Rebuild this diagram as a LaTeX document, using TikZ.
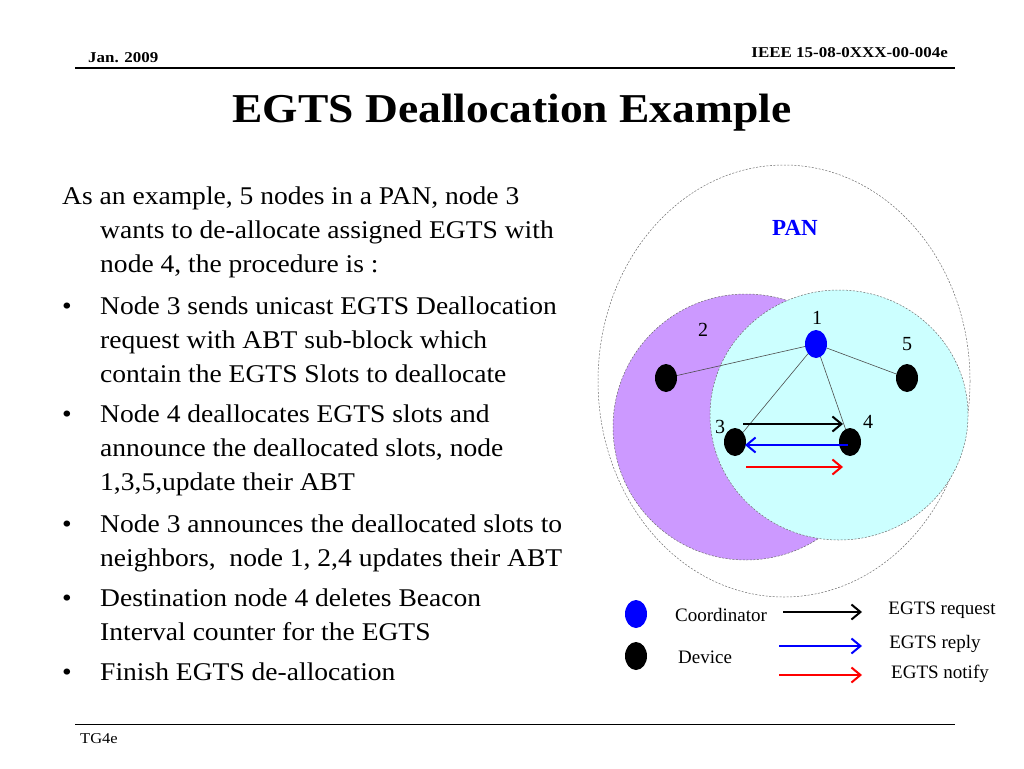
\documentclass[tikz,border=0pt]{standalone}
\usepackage{fontspec}
\setmainfont{Liberation Serif}
\usetikzlibrary{arrows.meta,shapes.geometric}
\definecolor{purp}{RGB}{204,153,255}
\definecolor{cyanl}{RGB}{204,255,255}
\definecolor{pblue}{RGB}{0,0,255}
\definecolor{dgrey}{RGB}{110,110,110}
\tikzset{
  body/.style={anchor=base west,inner sep=0pt,transform shape,xscale=1.08,font=\fontsize{25.5}{28}\selectfont},
  hdr/.style={inner sep=0pt,transform shape,xscale=1.13,font=\bfseries\fontsize{15}{17}\selectfont},
  dev/.style={ellipse,fill=black,minimum width=22pt,minimum height=28pt,inner sep=0pt},
  coord/.style={ellipse,fill=pblue,minimum width=22pt,minimum height=28pt,inner sep=0pt},
  num/.style={inner sep=0pt,font=\fontsize{20}{24}\selectfont},
  leg/.style={inner sep=0pt,font=\fontsize{19}{22}\selectfont},
  link/.style={draw=black!70,line width=0.6pt},
  msg/.style={line width=2.2pt,-{Straight Barb[length=9pt,width=15pt,line width=2pt]}},
  zone/.style={draw=dgrey,line width=0.5pt,dash pattern=on 2pt off 1.5pt},
}
\begin{document}
\begin{tikzpicture}[x=1pt,y=-1pt]
\useasboundingbox (0,0) rectangle (1024,768);
% header & footer
\draw[line width=1.3pt] (75,68) -- (955,68);
\draw[line width=1pt] (75,724) -- (955,724);
\node[hdr,anchor=base west] (date) at (88,63) {Jan. 2009};
\node[hdr,anchor=base east] (doc) at (948,58) {IEEE 15-08-0XXX-00-004e};
\node[anchor=base west,inner sep=0pt,transform shape,xscale=1.1,font=\fontsize{15}{17}\selectfont] (foot) at (80,743) {TG4e};
\node[anchor=base,inner sep=0pt,transform shape,xscale=1.11,font=\bfseries\fontsize{41}{44}\selectfont] (title) at (512,122) {EGTS Deallocation Example};
% body text
\node[body] (t1) at (62,204) {As an example, 5 nodes in a PAN, node 3};
\node[body] (t2) at (100,238) {wants to de-allocate assigned EGTS with};
\node[body] (t3) at (100,272) {node 4, the procedure is :};
\node[body] (b1) at (62,314) {\textbullet};
\node[body] (t4) at (100,314) {Node 3 sends unicast EGTS Deallocation};
\node[body] (t5) at (100,348) {request with ABT sub-block which};
\node[body] (t6) at (100,382) {contain the EGTS Slots to deallocate};
\node[body] (b2) at (62,422) {\textbullet};
\node[body] (t7) at (100,422) {Node 4 deallocates EGTS slots and};
\node[body] (t8) at (100,456) {announce the deallocated slots, node};
\node[body] (t9) at (100,490) {1,3,5,update their ABT};
\node[body] (b3) at (62,532) {\textbullet};
\node[body] (t10) at (100,532) {Node 3 announces the deallocated slots to};
\node[body] (t11) at (100,566) {neighbors,\ \ node 1, 2,4 updates their ABT};
\node[body] (b4) at (62,606) {\textbullet};
\node[body] (t12) at (100,606) {Destination node 4 deletes Beacon};
\node[body] (t13) at (100,640) {Interval counter for the EGTS};
\node[body] (b5) at (62,680) {\textbullet};
\node[body] (t14) at (100,680) {Finish EGTS de-allocation};
% PAN zones
\draw[zone] (784,381) ellipse [x radius=186,y radius=216];
\draw[zone,fill=purp] (746,427) circle [radius=133];
\draw[zone,fill=cyanl] (839,415) ellipse [x radius=129,y radius=125];
\node[inner sep=0pt,text=pblue,font=\bfseries\fontsize{23}{26}\selectfont] (pan) at (795,228) {PAN};
% nodes
\node[coord] (n1) at (816,344) {};
\node[dev] (n2) at (666,378) {};
\node[dev] (n5) at (907,378) {};
\node[dev] (n3) at (735,442) {};
\node[dev] (n4) at (850,442) {};
\node[num] (l1) at (817,318) {1};
\node[num] (l2) at (703,330) {2};
\node[num] (l5) at (907,344) {5};
\node[num] (l3) at (720,427) {3};
\node[num] (l4) at (868,422) {4};
\draw[link] (n1) -- (n2);
\draw[link] (n1) -- (n5);
\draw[link] (n1) -- (n3);
\draw[link] (n1) -- (n4);
\coordinate (r1) at (743,424);
\coordinate (r2) at (843,424);
\coordinate (p1) at (848,445);
\coordinate (p2) at (745,445);
\coordinate (q1) at (746,467);
\coordinate (q2) at (843,467);
\draw[msg,black] (r1) -- (r2);
\draw[msg,pblue] (p1) -- (p2);
\draw[msg,red] (q1) -- (q2);
% legend
\node[coord] (lc) at (636,614) {};
\node[dev] (ld) at (636,656) {};
\node[leg,anchor=west] (tc) at (675,615) {Coordinator};
\node[leg,anchor=west] (td) at (678,657) {Device};
\coordinate (a1) at (783,612);
\coordinate (a2) at (862,612);
\coordinate (c1) at (779,646);
\coordinate (c2) at (862,646);
\coordinate (e1) at (779,675);
\coordinate (e2) at (862,675);
\draw[msg,black] (a1) -- (a2);
\draw[msg,pblue] (c1) -- (c2);
\draw[msg,red] (e1) -- (e2);
\node[leg] (treq) at (942,610) {EGTS request};
\node[leg] (trep) at (935,644) {EGTS reply};
\node[leg] (tnot) at (940,674) {EGTS notify};
\end{tikzpicture}
\end{document}
